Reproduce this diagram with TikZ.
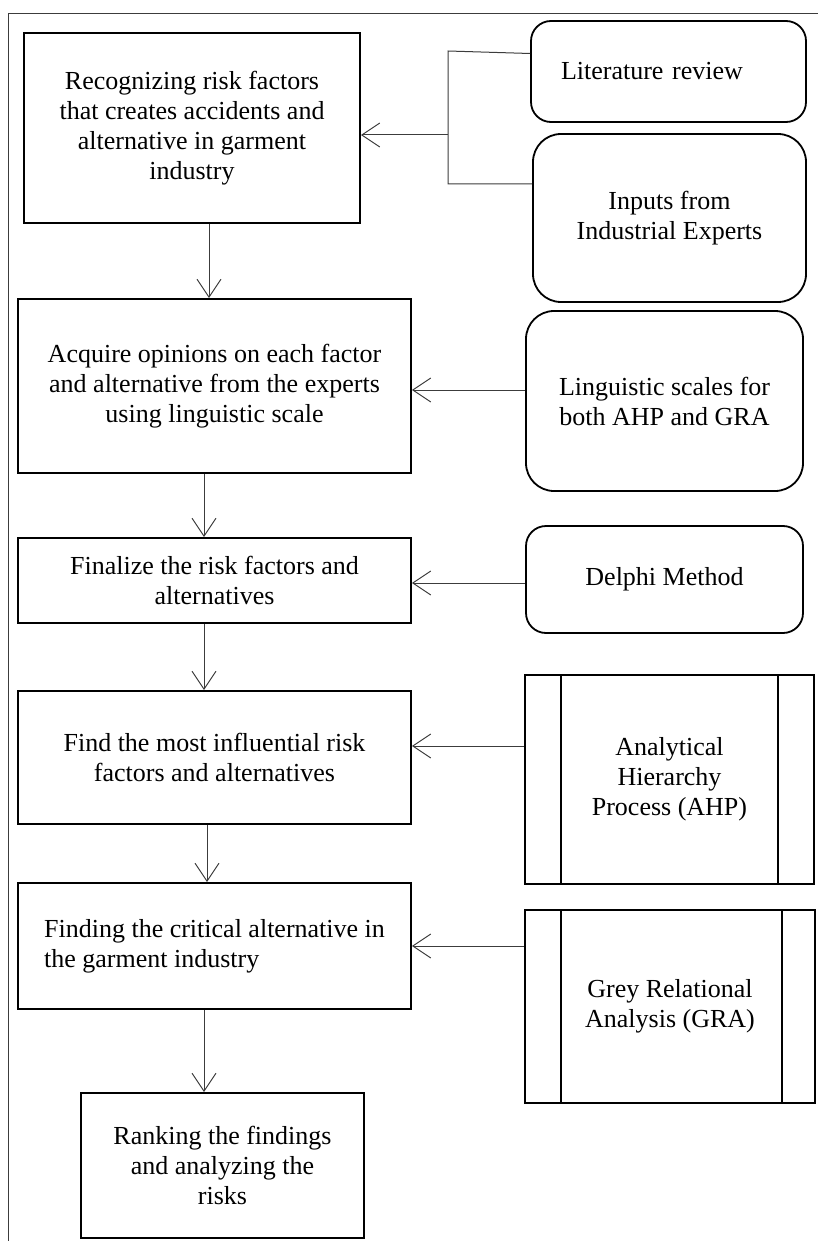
\documentclass[tikz,border=0pt]{standalone}
\usepackage{fontspec}
\setmainfont{Liberation Serif}
\usetikzlibrary{arrows.meta}
\definecolor{conncol}{HTML}{3C3C3C}
\newcommand{\diagfont}{\fontsize{26}{30}\selectfont}
\begin{document}
\begin{tikzpicture}[x=1pt,y=-1pt,
  box/.style={draw=black, line width=1.8pt, inner sep=0pt, align=center, font=\diagfont},
  rboxs/.style={box, rounded corners=20pt},
  rboxl/.style={box, rounded corners=28pt},
  conn/.style={draw=conncol, line width=1pt},
  arr/.style={conn, -{Straight Barb[length=18pt,width=24pt,line width=1pt]}},
  frame/.style={draw=conncol, line width=1pt}]
\useasboundingbox (0,0) rectangle (818,1241);
\draw[frame] (8,1241) -- (8,14) -- (818,14);

% main column
\node[box, minimum width=336pt, minimum height=190pt] (box1) at (192,128)
  {Recognizing risk factors\\that creates accidents and\\alternative in garment\\industry};
\node[box, minimum width=393pt, minimum height=174pt] (box2) at (214.5,386)
  {Acquire opinions on each factor\\and alternative from the experts\\using linguistic scale};
\node[box, minimum width=393pt, minimum height=85pt] (box3) at (214.5,580.5)
  {Finalize the risk factors and\\alternatives};
\node[box, minimum width=393pt, minimum height=133pt] (box4) at (214.5,757.5)
  {Find the most influential risk\\factors and alternatives};
\node[box, align=left, minimum width=393pt, minimum height=126pt] (box5) at (214.5,946)
  {Finding the critical alternative in\\the garment industry};
\node[box, minimum width=283pt, minimum height=145pt] (box6) at (222.5,1165.5)
  {Ranking the findings\\and analyzing the\\risks};

% side column
\node[rboxs, align=left, text width=215pt, minimum width=275pt, minimum height=101pt] (lit) at (668.5,71.5)
  {Literature review};
\node[rboxl, minimum width=273pt, minimum height=168pt] (inp) at (669.5,218)
  {Inputs from\\Industrial Experts};
\node[rboxl, minimum width=277pt, minimum height=180pt] (ling) at (664.5,401)
  {Linguistic scales for\\both AHP and GRA};
\node[rboxs, minimum width=277pt, minimum height=107pt] (delphi) at (664.5,579.5)
  {Delphi Method};
\node[box, minimum width=289pt, minimum height=209pt] (ahp) at (669.5,779.5)
  {Analytical\\Hierarchy\\Process (AHP)};
\node[box, minimum width=290pt, minimum height=193pt] (gra) at (670,1006.5)
  {Grey Relational\\Analysis (GRA)};

% inner bars of predefined-process boxes
\draw[line width=1.5pt] ([xshift=37pt]ahp.north west) -- ([xshift=37pt]ahp.south west);
\draw[line width=1.5pt] ([xshift=-37pt]ahp.north east) -- ([xshift=-37pt]ahp.south east);
\draw[line width=1.5pt] ([xshift=37pt]gra.north west) -- ([xshift=37pt]gra.south west);
\draw[line width=1.5pt] ([xshift=-34pt]gra.north east) -- ([xshift=-34pt]gra.south east);

% bracket joining the two inputs
\coordinate (bt) at (448,51);
\coordinate (bb) at (448,184);
\coordinate (bm) at (448,135);
\draw[conn] ([yshift=18pt]lit.west) -- (bt) -- (bb) -- ([yshift=34pt]inp.west);
\draw[arr] (bm) -- (bm -| box1.east);

% vertical flow
\draw[arr] ([xshift=17pt]box1.south) -- ([xshift=17pt]box1.south |- box2.north);
\draw[arr] ([xshift=-10.5pt]box2.south) -- ([xshift=-10.5pt]box2.south |- box3.north);
\draw[arr] ([xshift=-10.5pt]box3.south) -- ([xshift=-10.5pt]box3.south |- box4.north);
\draw[arr] ([xshift=-7.5pt]box4.south) -- ([xshift=-7.5pt]box4.south |- box5.north);
\draw[arr] ([xshift=-10.5pt]box5.south) -- ([xshift=-10.5pt]box5.south |- box6.north);

% horizontal inputs
\draw[arr] ([yshift=11pt]ling.west) -- ([yshift=11pt]ling.west -| box2.east);
\draw[arr] ([yshift=-3.5pt]delphi.west) -- ([yshift=-3.5pt]delphi.west -| box3.east);
\draw[arr] ([yshift=33.5pt]ahp.west) -- ([yshift=33.5pt]ahp.west -| box4.east);
\draw[arr] ([yshift=60.5pt]gra.west) -- ([yshift=60.5pt]gra.west -| box5.east);
\end{tikzpicture}
\end{document}
